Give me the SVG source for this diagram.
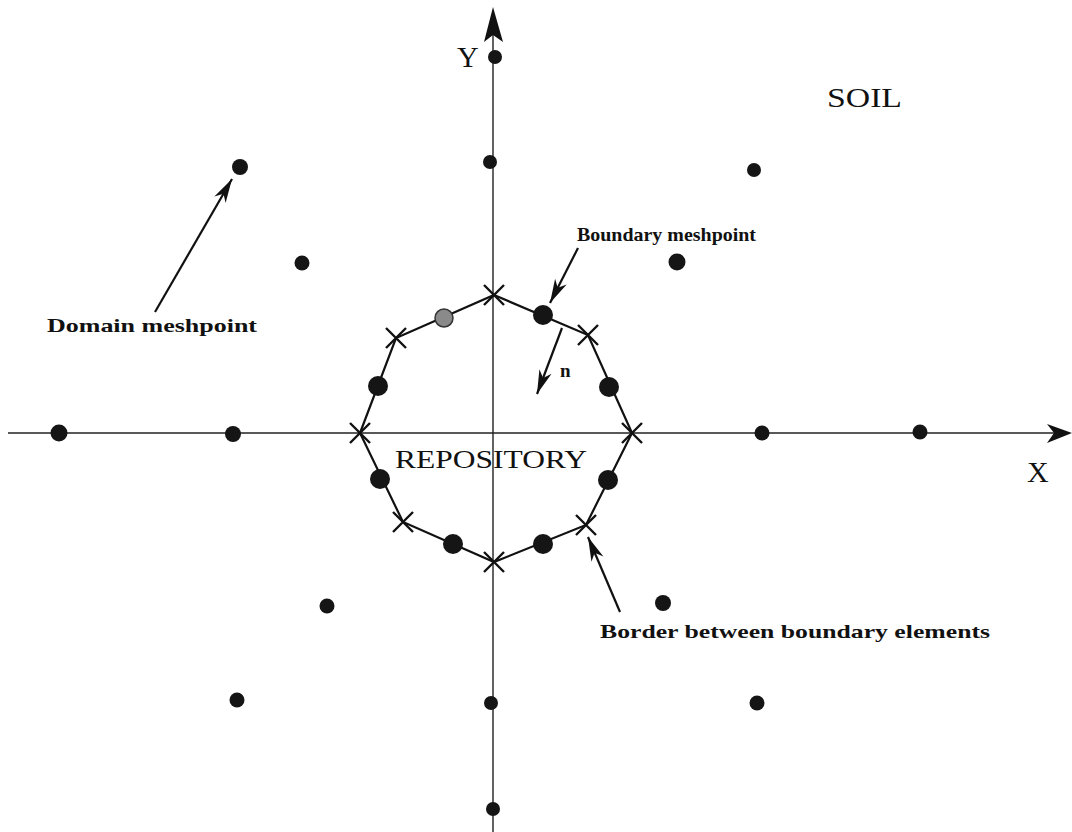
<svg xmlns="http://www.w3.org/2000/svg" width="1072" height="832" viewBox="0 0 1072 832">
<style>
.axis{stroke:#222;stroke-width:1.4;fill:none}
.edge{stroke:#111;stroke-width:2.2;fill:none}
.ptr{stroke:#111;stroke-width:2.2;fill:none}
.cross{stroke:#111;stroke-width:2.4;fill:none}
.dot{fill:#151515}
.gdot{fill:#8a8a8a;stroke:#333;stroke-width:1.5}
.head{fill:#111}
.lbl{font-family:"Liberation Serif","Times New Roman",serif;fill:#111}
.blbl{font-family:"Liberation Serif","Times New Roman",serif;font-weight:bold;fill:#111}
</style>
<defs>
<marker id="arr" markerUnits="userSpaceOnUse" viewBox="-26 -8 28 16" refX="0" refY="0" markerWidth="28" markerHeight="16" orient="auto">
<path d="M0,0 L-24,-6.5 L-17,0 L-24,6.5 Z" fill="#111"/>
</marker>
</defs>
<rect x="0" y="0" width="1072" height="832" fill="#fff"/>
<g id="connectors">
<line class="axis" x1="8" y1="433" x2="1056" y2="433"/>
<path class="head" d="M1072,433 L1047,424 L1054,433 L1047,443 Z"/>
<line class="axis" x1="493" y1="832" x2="493" y2="30"/>
<path class="head" d="M493,7 L484,42 L493,35 L503,42 Z"/>
<line class="ptr" x1="155" y1="312" x2="232" y2="179" marker-end="url(#arr)"/>
<line class="ptr" x1="578" y1="248" x2="550" y2="303" marker-end="url(#arr)"/>
<line class="ptr" x1="620" y1="612" x2="588" y2="537" marker-end="url(#arr)"/>
<line class="ptr" x1="562" y1="328" x2="537" y2="394" marker-end="url(#arr)"/>
</g>
<g id="repository-boundary">
<polygon class="edge" points="494,295 588,335 632,433 586,525 494,562 403,522 360,433 396,338"/>
<g class="cross">
<path d="M484,285 L504,305 M504,285 L484,305"/>
<path d="M578,325 L598,345 M598,325 L578,345"/>
<path d="M622,423 L642,443 M642,423 L622,443"/>
<path d="M576,515 L596,535 M596,515 L576,535"/>
<path d="M484,552 L504,572 M504,552 L484,572"/>
<path d="M393,512 L413,532 M413,512 L393,532"/>
<path d="M350,423 L370,443 M370,423 L350,443"/>
<path d="M386,328 L406,348 M406,328 L386,348"/>
</g>
</g>
<g id="boundary-meshpoints">
<circle class="gdot" cx="444" cy="318" r="9"/>
<circle class="dot" cx="543" cy="315" r="10"/>
<circle class="dot" cx="609" cy="387" r="10"/>
<circle class="dot" cx="608" cy="480" r="10"/>
<circle class="dot" cx="543" cy="544" r="10"/>
<circle class="dot" cx="453" cy="544" r="10"/>
<circle class="dot" cx="380" cy="479" r="10"/>
<circle class="dot" cx="378" cy="386" r="10"/>
</g>
<g id="domain-meshpoints">
<circle class="dot" cx="495" cy="57" r="7"/>
<circle class="dot" cx="490" cy="162" r="7"/>
<circle class="dot" cx="491" cy="703" r="7"/>
<circle class="dot" cx="493" cy="809" r="7"/>
<circle class="dot" cx="240" cy="167" r="8"/>
<circle class="dot" cx="754" cy="170" r="7"/>
<circle class="dot" cx="302" cy="263" r="7.5"/>
<circle class="dot" cx="677" cy="262" r="8.5"/>
<circle class="dot" cx="59" cy="433" r="8.5"/>
<circle class="dot" cx="233" cy="434" r="8"/>
<circle class="dot" cx="762" cy="433" r="7.5"/>
<circle class="dot" cx="920" cy="432" r="7.5"/>
<circle class="dot" cx="327" cy="606" r="7.5"/>
<circle class="dot" cx="663" cy="603" r="8"/>
<circle class="dot" cx="237" cy="700" r="7.5"/>
<circle class="dot" cx="757" cy="703" r="7.5"/>
</g>
<g id="labels">
<text class="lbl" x="457" y="67" font-size="30">Y</text>
<text class="lbl" x="1027" y="482" font-size="30">X</text>
<text class="lbl" x="827" y="107" font-size="28" textLength="75" lengthAdjust="spacingAndGlyphs">SOIL</text>
<text class="lbl" x="395" y="468" font-size="26" textLength="192" lengthAdjust="spacingAndGlyphs">REPOSITORY</text>
<text class="blbl" x="577" y="241" font-size="19" textLength="179" lengthAdjust="spacingAndGlyphs">Boundary meshpoint</text>
<text class="blbl" x="47" y="332" font-size="19" textLength="210" lengthAdjust="spacingAndGlyphs">Domain meshpoint</text>
<text class="blbl" x="600" y="638" font-size="19" textLength="390" lengthAdjust="spacingAndGlyphs">Border between boundary elements</text>
<text class="blbl" x="560" y="377" font-size="19">n</text>
</g>
</svg>
